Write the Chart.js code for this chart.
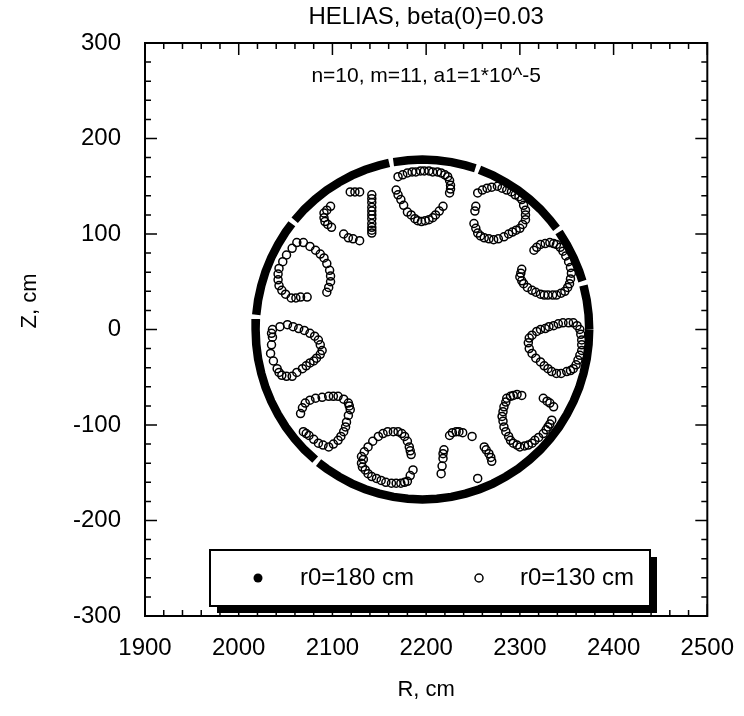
<!DOCTYPE html>
<html>
<head>
<meta charset="utf-8">
<script src="https://cdn.jsdelivr.net/npm/chart.js@4.4.0/dist/chart.umd.min.js"></script>
<style>
  html, body { margin: 0; padding: 0; background: #fff; }
  #chart { display: block; }
</style>
</head>
<body>
<canvas id="chart" width="744" height="716"></canvas>
<script>
// r0=180 cm surface, read along the ring (null = break in the ring)
const ringR = [2374, 2373.3, 2371.3, 2367.9, null, 2366.7, 2363.3, 2357.3, 2350.1, 2341.8, null,
  2339.1, 2332.3, 2321.9, 2310.4, 2298.1, 2285, 2271.2, 2256.9, null,
  2252.5, 2242.1, 2226.9, 2211.5, 2196, 2180.5, 2165.1, null,
  2160.5, 2149.9, 2135.1, 2120.8, 2107, 2093.9, 2081.6, 2070.1, 2059.7, null,
  2056.7, 2050.2, 2041.9, 2034.7, 2028.7, 2024.1, 2020.7, 2018.7, null,
  2018.3, 2018, 2018.7, 2020.7, 2024.1, 2028.7, 2034.7, 2041.9, 2050.2, 2059.7, 2070.1, 2081.6, null,
  2085.2, 2093.9, 2107, 2120.8, 2135.1, 2149.9, 2165.1, 2180.5, 2196, 2211.5, 2226.9, 2242.1, 2256.9,
  2271.2, 2285, 2298.1, 2310.4, 2321.9, 2332.3, 2341.8, 2350.1, 2357.3, 2363.3, 2367.9, 2371.3, 2373.3, 2374]
const ringZ = [0, 15.5, 30.9, 46.1, null, 50.6, 60.9, 75.2, 89, 102.1, null,
  105.9, 114.4, 125.9, 136.3, 145.8, 154.1, 161.3, 167.3, null,
  168.8, 171.9, 175.3, 177.3, 178, 177.3, 175.3, null,
  174.4, 171.9, 167.3, 161.3, 154.1, 145.8, 136.3, 125.9, 114.4, null,
  110.8, 102.1, 89, 75.2, 60.9, 46.1, 30.9, 15.5, null,
  10.9, 0, -15.5, -30.9, -46.1, -60.9, -75.2, -89, -102.1, -114.4, -125.9, -136.3, null,
  -139.3, -145.8, -154.1, -161.3, -167.3, -171.9, -175.3, -177.3, -178, -177.3, -175.3, -171.9, -167.3,
  -161.3, -154.1, -145.8, -136.3, -125.9, -114.4, -102.1, -89, -75.2, -60.9, -46.1, -30.9, -15.5, 0]

// r0=130 cm island chain, 11 islands (one line per island)
const islandR = [
  2098, 2091, 2092, 2099, 2112, 2117, 2122, 2129, 2119, 2124, 2129, 2142, 2142, 2142, 2142, 2142, 2142, 2142, 2142, 2142, 2142, 2142, 2094, 2091, 2095,
  2062, 2051, 2043, 2042, 2046, 2056, 2069, 2082, 2091, 2097, 2098, 2094, 2066, 2073, 2057, 2047, 2042, 2043, 2050, 2076, 2087, 2094, 2098, 2096, 2061,
  2036, 2052, 2064, 2076, 2085, 2089, 2083, 2076, 2068, 2057, 2046, 2041, 2034, 2036, 2044, 2058, 2070, 2081, 2087, 2087, 2080, 2072, 2062, 2051, 2043, 2037, 2035, 2035,
  2066, 2071, 2082, 2096, 2106, 2117, 2119, 2115, 2112, 2106, 2096, 2085, 2075, 2069, 2068, 2076, 2089, 2101, 2112, 2118, 2117, 2114, 2109, 2101, 2090, 2080, 2072,
  2131, 2138, 2149, 2159, 2170, 2177, 2182, 2184, 2186, 2180, 2173, 2163, 2152, 2142, 2135, 2131, 2134, 2143, 2154, 2165, 2174, 2180, 2183, 2183, 2177, 2168, 2157, 2147, 2138, 2132, 2133,
  2225, 2232, 2239, 2249, 2219, 2218, 2216, 2255, 2262, 2267, 2270, 2228, 2235, 2218, 2217, 2264, 2269,
  2286, 2293, 2302, 2283, 2281, 2283, 2288, 2293, 2300, 2309, 2316, 2325, 2330, 2334, 2325, 2332, 2336, 2290, 2297, 2285, 2282, 2282, 2285, 2290, 2297, 2305, 2313, 2320, 2328, 2332, 2329,
  2318, 2327, 2336, 2346, 2357, 2364, 2366, 2366, 2362, 2357, 2350, 2339, 2330, 2322, 2313, 2309, 2313, 2322, 2331, 2341, 2352, 2361, 2365, 2366, 2364, 2360, 2354, 2344, 2334, 2326, 2317, 2310, 2310,
  2315, 2322, 2332, 2339, 2346, 2352, 2355, 2353, 2348, 2339, 2330, 2322, 2313, 2304, 2300, 2302, 2318, 2327, 2336, 2343, 2349, 2354, 2354, 2351, 2344, 2335, 2326, 2317, 2308, 2302, 2301,
  2255, 2265, 2276, 2286, 2295, 2302, 2306, 2306, 2300, 2292, 2283, 2272, 2262, 2255, 2251, 2253, 2260, 2270, 2281, 2291, 2299, 2304, 2306, 2303, 2296, 2288, 2277, 2267, 2258, 2253, 2252,
  2170, 2180, 2189, 2198, 2207, 2216, 2223, 2226, 2225, 2218, 2210, 2203, 2195, 2188, 2180, 2173, 2168, 2175, 2185, 2194, 2203, 2212, 2220, 2225, 2226, 2214, 2207, 2199, 2191, 2184, 2176, 2170]
const islandZ = [
  129, 122, 113, 107, 100, 96, 95, 93, 144, 144, 144, 141, 133, 124, 116, 107, 101, 137, 128, 120, 111, 104, 125, 117, 110,
  91, 78, 64, 52, 41, 33, 91, 83, 75, 62, 50, 39, 34, 34, 85, 71, 58, 46, 37, 87, 79, 69, 56, 44, 33,
  0, 5, 1, -4, -11, -22, -30, -35, -41, -49, -48, -41, -25, -8, 3, 3, -1, -7, -16, -26, -33, -38, -45, -49, -45, -33, -16, -4,
  -88, -77, -72, -70, -70, -77, -84, -97, -107, -116, -123, -119, -111, -107, -82, -74, -71, -70, -73, -80, -90, -102, -112, -120, -121, -115, -109,
  -133, -123, -112, -107, -107, -112, -123, -131, -147, -159, -161, -161, -158, -154, -147, -140, -128, -117, -109, -107, -109, -117, -127, -153, -160, -161, -160, -156, -151, -144, -136,
  -111, -107, -108, -112, -126, -135, -151, -156, -123, -130, -138, -108, -107, -130, -143, -126, -134,
  -72, -69, -69, -81, -91, -102, -112, -119, -123, -121, -116, -109, -102, -95, -72, -77, -81, -70, -68, -76, -86, -96, -107, -116, -121, -122, -119, -113, -105, -99, -75,
  -2, 1, 4, 7, 7, 0, -11, -22, -32, -41, -44, -46, -41, -34, -25, -14, -6, 0, 3, 6, 7, 4, -5, -16, -27, -37, -43, -46, -44, -38, -30, -20, -9,
  83, 89, 91, 89, 82, 71, 59, 48, 40, 36, 36, 37, 41, 48, 55, 63, 86, 90, 90, 86, 77, 65, 53, 44, 38, 36, 36, 39, 44, 51, 59,
  143, 148, 150, 146, 141, 136, 125, 115, 106, 102, 97, 94, 96, 101, 111, 129, 146, 149, 148, 144, 139, 130, 120, 110, 104, 100, 95, 95, 98, 106, 124,
  160, 164, 165, 166, 165, 164, 160, 151, 143, 129, 120, 115, 113, 116, 123, 136, 146, 162, 165, 166, 166, 165, 162, 156, 147, 124, 117, 114, 114, 120, 130, 141]

const seriesLabels = ['r0=180 cm', 'r0=130 cm']
const majorR = [1900, 2000, 2100, 2200, 2300, 2400, 2500]
const majorZ = [-300, -200, -100, 0, 100, 200, 300]

const FONT = '"Liberation Sans", Arial, Helvetica, sans-serif'

const ringPts = ringR.map((r, i) => ({ x: r, y: ringZ[i] }))
const islandPts = islandR.map((r, i) => ({ x: r, y: islandZ[i] }))

// frame on all four sides with inward ticks
const frameTicks = {
  id: 'frameTicks',
  afterDatasetsDraw(chart) {
    const { ctx, chartArea: a, scales: { x, y } } = chart
    ctx.save()
    ctx.strokeStyle = '#000'
    ctx.lineWidth = 1.5
    x.ticks.forEach(t => {
      const px = x.getPixelForValue(t.value)
      const len = majorR.includes(t.value) ? 12 : 6
      ctx.beginPath()
      ctx.moveTo(px, a.bottom); ctx.lineTo(px, a.bottom - len)
      ctx.moveTo(px, a.top); ctx.lineTo(px, a.top + len)
      ctx.stroke()
    })
    y.ticks.forEach(t => {
      const py = y.getPixelForValue(t.value)
      const len = majorZ.includes(t.value) ? 12 : 6
      ctx.beginPath()
      ctx.moveTo(a.left, py); ctx.lineTo(a.left + len, py)
      ctx.moveTo(a.right, py); ctx.lineTo(a.right - len, py)
      ctx.stroke()
    })
    ctx.lineWidth = 2
    ctx.strokeRect(a.left, a.top, a.right - a.left, a.bottom - a.top)

    // caption inside the frame
    ctx.fillStyle = '#000'
    ctx.font = '21px ' + FONT
    ctx.textAlign = 'center'
    ctx.textBaseline = 'middle'
    ctx.fillText('n=10, m=11, a1=1*10^-5', (a.left + a.right) / 2, a.top + 33)

    // y axis title
    ctx.save()
    ctx.translate(30, a.top + 258)
    ctx.rotate(-Math.PI / 2)
    ctx.font = '22px ' + FONT
    ctx.fillText('Z, cm', 0, 0)
    ctx.restore()
    ctx.restore()
  }
}

// boxed legend with drop shadow
const boxLegend = {
  id: 'boxLegend',
  afterDatasetsDraw(chart) {
    const { ctx, chartArea: a } = chart
    const x0 = a.left + 65, y0 = a.top + 507, w = 440, h = 56
    const cy = y0 + h / 2
    ctx.save()
    ctx.fillStyle = '#000'
    ctx.fillRect(x0 + 7, y0 + 7, w, h)
    ctx.fillStyle = '#fff'
    ctx.fillRect(x0, y0, w, h)
    ctx.lineWidth = 2
    ctx.strokeStyle = '#000'
    ctx.strokeRect(x0, y0, w, h)
    ctx.fillStyle = '#000'
    ctx.font = '24px ' + FONT
    ctx.textBaseline = 'middle'
    ctx.beginPath()
    ctx.arc(x0 + 48, cy, 4.5, 0, Math.PI * 2)
    ctx.fill()
    ctx.fillText(chart.data.datasets[0].label, x0 + 90, cy)
    ctx.beginPath()
    ctx.arc(x0 + 269, cy, 4, 0, Math.PI * 2)
    ctx.lineWidth = 1.5
    ctx.stroke()
    ctx.fillText(chart.data.datasets[1].label, x0 + 310, cy)
    ctx.restore()
  }
}

new Chart(document.getElementById('chart'), {
  type: 'scatter',
  data: {
    datasets: [{
      label: seriesLabels[0],
      data: ringPts,
      showLine: true,
      spanGaps: false,
      borderColor: '#000',
      borderWidth: 8.5,
      borderCapStyle: 'butt',
      pointRadius: 0,
      pointHoverRadius: 0
    }, {
      label: seriesLabels[1],
      data: islandPts,
      pointStyle: 'circle',
      pointRadius: 4,
      pointBorderWidth: 1.5,
      pointBorderColor: '#000',
      pointBackgroundColor: 'rgba(255,255,255,0)'
    }]
  },
  options: {
    responsive: false,
    devicePixelRatio: 1,
    animation: false,
    layout: { padding: { left: 0, right: 32, top: 0, bottom: 0 } },
    plugins: {
      legend: { display: false },
      tooltip: { enabled: false },
      title: {
        display: true,
        fullSize: false,
        text: 'HELIAS, beta(0)=0.03',
        color: '#000',
        font: { family: FONT, size: 24, weight: 'normal' },
        padding: { top: 3, bottom: 11.2 }
      }
    },
    scales: {
      x: {
        type: 'linear',
        min: 1900,
        max: 2500,
        grid: { display: false },
        border: { display: false },
        ticks: {
          stepSize: 20,
          autoSkip: false,
          maxRotation: 0,
          padding: 10,
          color: '#000',
          font: { family: FONT, size: 24 },
          callback: v => majorR.includes(v) ? String(v) : ''
        },
        title: {
          display: true,
          text: 'R, cm',
          color: '#000',
          font: { family: FONT, size: 22 },
          padding: { top: 13, bottom: 13 }
        },
        afterFit: s => { s.height = 100 }
      },
      y: {
        type: 'linear',
        min: -300,
        max: 300,
        grid: { display: false },
        border: { display: false },
        ticks: {
          stepSize: 20,
          autoSkip: false,
          padding: 16,
          color: '#000',
          font: { family: FONT, size: 24 },
          callback: v => majorZ.includes(v) ? String(v) : ''
        },
        afterFit: s => { s.width = 145 }
      }
    }
  },
  plugins: [frameTicks, boxLegend]
})
</script>
</body>
</html>
